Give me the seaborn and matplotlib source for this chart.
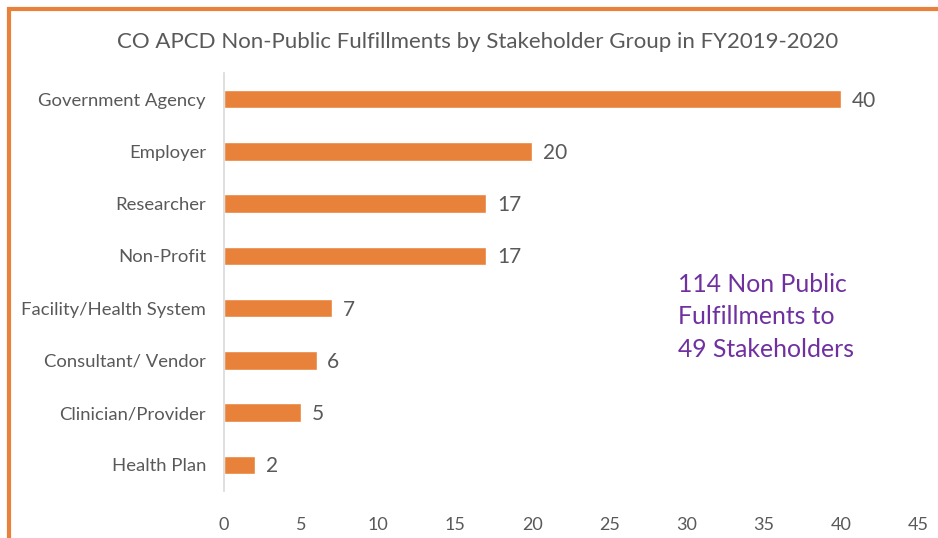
import matplotlib
matplotlib.use("Agg")
import matplotlib.pyplot as plt
import seaborn as sns
import pandas as pd
from matplotlib.patches import Rectangle

categories = ["Government Agency", "Employer", "Researcher", "Non-Profit",
              "Facility/Health System", "Consultant/ Vendor", "Clinician/Provider", "Health Plan"]
values = [40, 20, 17, 17, 7, 6, 5, 2]
xticks = [0, 5, 10, 15, 20, 25, 30, 35, 40, 45]
title = "CO APCD Non-Public Fulfillments by Stakeholder Group in FY2019-2020"
note = "114 Non Public\nFulfillments to\n49 Stakeholders"

sns.set_theme(style="white")
plt.rcParams['font.family'] = ['Lato', 'DejaVu Sans']

orange = "#E8823A"
grey = "#595959"
purple = "#7030A0"

df = pd.DataFrame({"cat": categories, "val": values})

fig = plt.figure(figsize=(9.38, 5.38), dpi=100)
ax = fig.add_axes([224/938, 1-491/538, (918-224)/938, (491-73)/538])
sns.barplot(data=df, x="val", y="cat", color=orange, width=0.35, ax=ax, saturation=1)

ax.set_xlim(0, 45)
ax.set_xticks(xticks)
ax.set_xticklabels([str(t) for t in xticks], fontsize=13, color=grey)
ax.tick_params(axis='x', length=0, pad=19)
ax.tick_params(axis='y', length=0, pad=13, labelsize=13.3, labelcolor=grey)
ax.set_xlabel("")
ax.set_ylabel("")
for s in ["top", "right", "bottom"]:
    ax.spines[s].set_visible(False)
ax.spines["left"].set_color("#d9d9d9")
ax.spines["left"].set_linewidth(1.2)

for i, v in enumerate(values):
    ax.text(v + 0.7, i + 0.03, str(v), va="center", ha="left", fontsize=15, color=grey)

fig.text(478/938, 1-42/538, title, ha="center", va="center", fontsize=16, color=grey)
fig.text(678/938, 1-317/538, note, ha="left", va="center", fontsize=17.8,
         color=purple, linespacing=1.48)

border = Rectangle((9/938, -0.1), 1.2, 1 - 9/538 + 0.1, transform=fig.transFigure,
                   fill=False, edgecolor=orange, linewidth=3, clip_on=False)
fig.patches.append(border)

fig.savefig("out.png", dpi=100)
